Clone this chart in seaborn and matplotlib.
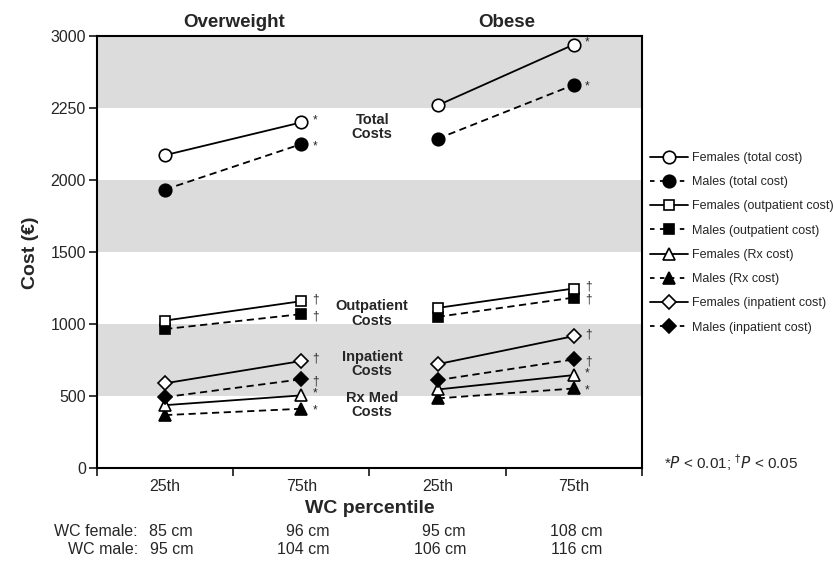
import numpy as np
import pandas as pd
import matplotlib
matplotlib.use("Agg")
import matplotlib.pyplot as plt
from matplotlib.lines import Line2D
import seaborn as sns

# categories: Overweight 25th/75th, Obese 25th/75th
percentiles = ["25th", "75th", "25th", "75th"]
groups = ["Overweight", "Obese"]
wc_female = ["85 cm", "96 cm", "95 cm", "108 cm"]
wc_male = ["95 cm", "104 cm", "106 cm", "116 cm"]

# costs
female_total = [2175, 2403, 2521, 2944]
male_total = [1936, 2252, 2289, 2664]
female_outpatient = [1025, 1160, 1113, 1248]
male_outpatient = [966, 1070, 1051, 1185]
female_rx = [437, 505, 546, 646]
male_rx = [368, 412, 484, 553]
female_inpatient = [589, 744, 722, 917]
male_inpatient = [493, 617, 611, 755]

# significance at 75th percentile (same for both groups)
sig_total = "*"
sig_outpatient = "\u2020"
sig_rx = "*"
sig_inpatient = "\u2020"

ytick_vals = [0, 500, 1000, 1500, 2000, 2500, 3000]
ytick_labels = ["0", "500", "1000", "1500", "2000", "2250", "3000"]

sns.set_style("white")
plt.rcParams["font.family"] = ["Liberation Sans", "DejaVu Sans"]

series = [
    ("Males (total cost)", male_total, "o", "black", "--", 9, sig_total),
    ("Females (total cost)", female_total, "o", "white", "-", 9, sig_total),
    ("Males (outpatient cost)", male_outpatient, "s", "black", "--", 7.5, sig_outpatient),
    ("Females (outpatient cost)", female_outpatient, "s", "white", "-", 7.5, sig_outpatient),
    ("Males (Rx cost)", male_rx, "^", "black", "--", 9, sig_rx),
    ("Females (Rx cost)", female_rx, "^", "white", "-", 9, sig_rx),
    ("Males (inpatient cost)", male_inpatient, "D", "black", "--", 7.5, sig_inpatient),
    ("Females (inpatient cost)", female_inpatient, "D", "white", "-", 7.5, sig_inpatient),
]

fig = plt.figure(figsize=(8.33, 5.63), dpi=100)
ax = fig.add_axes([0.1164, 0.1687, 0.6543, 0.7665])

# grey bands
for lo, hi in [(500, 1000), (1500, 2000), (2500, 3000)]:
    ax.axhspan(lo, hi, color="#dcdcdc", zorder=0, lw=0)

handles = {}
for label, vals, mk, fc, ls, ms, sig in series:
    dy = 1.5 if fc == "white" else -1.5
    for g in range(2):
        xs = [2 * g, 2 * g + 1]
        ys = vals[2 * g:2 * g + 2]
        sns.lineplot(x=xs, y=ys, ax=ax, color="black", linewidth=1.3,
                     linestyle=ls if ls == "-" else (0, (4, 2.5)),
                     marker=mk, markersize=ms, markerfacecolor=fc,
                     markeredgecolor="black", markeredgewidth=1.2, zorder=3)
        ax.annotate(sig, (2 * g + 1, ys[1]), xytext=(8, dy),
                    textcoords="offset points", fontsize=8.5, va="center",
                    ha="left", zorder=4)
    handles[label] = Line2D([], [], color="black", linewidth=1.3,
                            linestyle=ls if ls == "-" else (0, (2.5, 3)),
                            marker=mk, markersize=ms, markerfacecolor=fc,
                            markeredgecolor="black", markeredgewidth=1.2)

# cost-type labels
label_kw = dict(ha="center", va="center", fontsize=10.5, fontweight="bold",
                linespacing=1.05, zorder=5)
ax.text(1.52, 2372, "Total\nCosts", **label_kw)
ax.text(1.52, 1073, "Outpatient\nCosts", **label_kw)
ax.text(1.52, 722, "Inpatient\nCosts", **label_kw)
ax.text(1.52, 437, "Rx Med\nCosts", **label_kw)

ax.set_xlim(-0.5, 3.5)
ax.set_ylim(0, 3000)
ax.set_yticks(ytick_vals)
ax.set_yticklabels(ytick_labels)
ax.set_xticks(range(4))
ax.set_xticklabels(percentiles)
ax.set_xticks([-0.5, 0.5, 1.5, 2.5, 3.5], minor=True)
ax.tick_params(axis="x", which="major", length=0, labelsize=11.5, pad=8)
ax.tick_params(axis="x", which="minor", length=6, width=1.3, direction="out", bottom=True)
ax.tick_params(axis="y", length=6, width=1.3, direction="out", left=True, labelsize=11.5, pad=2)
for sp in ax.spines.values():
    sp.set_visible(True)
    sp.set_linewidth(1.5)
    sp.set_color("black")
ax.set_ylabel("Cost (\u20ac)", fontsize=14, fontweight="bold", labelpad=8)
ax.set_xlabel("WC percentile", fontsize=14, fontweight="bold", labelpad=4)

# group titles above the axes
for g, name in enumerate(groups):
    ax.text(2 * g + 0.51, 1.012, name, transform=ax.get_xaxis_transform(),
            ha="center", va="bottom", fontsize=13.5, fontweight="bold")

# waist circumference rows
fy_f = 1 - 531 / 563
fy_m = 1 - 550 / 563
fig.text(138 / 833, fy_f, "WC female:", ha="right", va="center", fontsize=11.5)
fig.text(138 / 833, fy_m, "WC male:", ha="right", va="center", fontsize=11.5)
for i in range(4):
    xpix = 165 + i * 136.5 + 28
    fig.text(xpix / 833, fy_f, wc_female[i], ha="right", va="center", fontsize=11.5)
    fig.text(xpix / 833, fy_m, wc_male[i], ha="right", va="center", fontsize=11.5)

# legend
order = ["Females (total cost)", "Males (total cost)",
         "Females (outpatient cost)", "Males (outpatient cost)",
         "Females (Rx cost)", "Males (Rx cost)",
         "Females (inpatient cost)", "Males (inpatient cost)"]
fig.legend([handles[k] for k in order], order, loc="upper left",
           bbox_to_anchor=(650 / 833, 1 - 152 / 563), frameon=False,
           fontsize=9, handlelength=3.0, handletextpad=0.35,
           labelspacing=0.98, borderaxespad=0, borderpad=0)

fig.text(664 / 833, 1 - 463 / 563,
         r"*$\it{P}$ < 0.01; $^{\dagger}\it{P}$ < 0.05",
         ha="left", va="center", fontsize=11)

fig.savefig("out.png", dpi=100)
